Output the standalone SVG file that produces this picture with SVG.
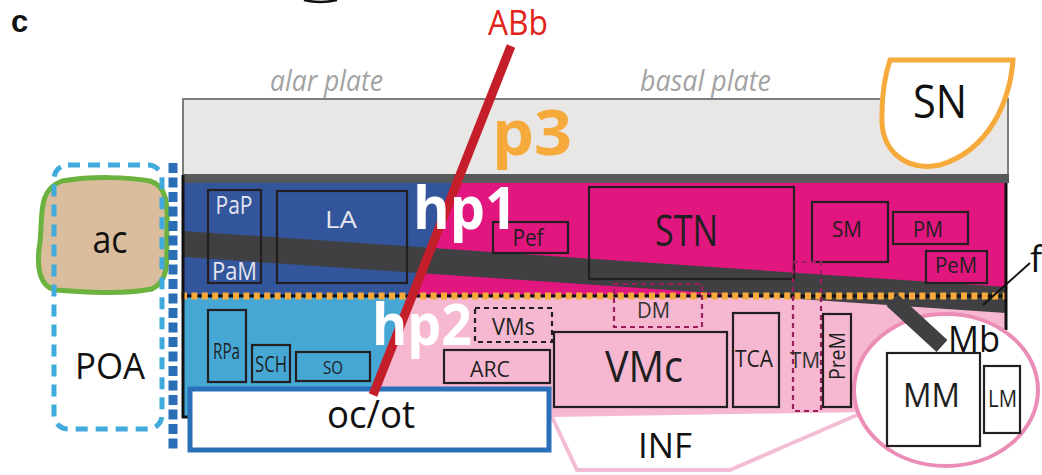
<svg xmlns="http://www.w3.org/2000/svg" width="1042" height="475" viewBox="0 0 1042 475">
<defs>
<style>
text{font-family:"Open Sans","DejaVu Sans",sans-serif;}
.c{text-anchor:middle;}
.box{fill:none;stroke:#231f20;stroke-width:2.2;}
.wbox{fill:#ffffff;stroke:#231f20;stroke-width:2.2;}
.dk{fill:#1f1f1f;}
.lt{fill:#e4e4ee;}
.dash{fill:none;stroke:#9b1f5e;stroke-width:2.2;stroke-dasharray:5 4;}
.bdash{fill:none;stroke:#231f20;stroke-width:2.2;stroke-dasharray:5 4;}
.big{font-weight:700;fill:#ffffff;}
.plate{font-style:italic;fill:#a3a3a3;}
</style>
</defs>
<rect width="1042" height="475" fill="#ffffff"/>
<path d="M304,0 Q320,4 337,0" fill="none" stroke="#111" stroke-width="2.5"/>
<text x="11" y="32" style="font-family:'Liberation Sans',Arial,sans-serif;font-weight:700;font-size:31px" fill="#111">c</text>

<g id="regions">
<rect id="p3-box" x="183" y="99" width="825" height="76" fill="#e8e7e5" stroke="#7d7d7d" stroke-width="2"/>
<rect x="183" y="174" width="826" height="9" fill="#58595b"/>
<rect x="183" y="183" width="823" height="113" fill="#33559b"/>
<polygon points="457,183 1006,183 1006,296 412,296" fill="#e1167f"/>
<rect x="183" y="296" width="823" height="121" fill="#46a6d4"/>
<polygon points="412,296 1006,296 1006,417 364,417" fill="#f6b7d1"/>
<polygon points="183,231 1006,287 1006,313 183,257" fill="#404042"/>
<line x1="183" y1="296" x2="1007" y2="296" stroke="#111" stroke-width="3"/>
<line x1="181" y1="296" x2="1007" y2="296" stroke="#f7aa3c" stroke-width="7" stroke-dasharray="6 4.4"/>
<line x1="183" y1="175" x2="183" y2="418" stroke="#111" stroke-width="3"/>
<line x1="182" y1="417" x2="188" y2="417" stroke="#111" stroke-width="3"/>
<line x1="1006" y1="183" x2="1006" y2="330" stroke="#111" stroke-width="3"/>
</g>

<g id="ac">
<path d="M62,181 C92,176 128,177 150,181 C167,186 168,204 167,230 C166,258 171,280 152,289 C122,295 82,292 56,290 C39,287 36,266 40,242 C43,216 37,190 62,181 Z" fill="#d9bd9c" stroke="#6cb23f" stroke-width="5"/>
<text class="c" x="110" y="253" font-size="38" textLength="35" lengthAdjust="spacingAndGlyphs" fill="#111">ac</text>
</g>
<g id="POA">
<rect x="54" y="165" width="108" height="264" rx="14" fill="none" stroke="#41aadc" stroke-width="5" stroke-dasharray="12 8"/>
<text class="c" x="110" y="379" font-size="36" textLength="70" lengthAdjust="spacingAndGlyphs" fill="#111">POA</text>
</g>
<line x1="173" y1="163" x2="173" y2="453" stroke="#2a6fb6" stroke-width="9" stroke-dasharray="10 4.5"/>

<g id="SN">
<path d="M890,60 L1013,60 C1010,100 990,150 940,165 C905,172 880,150 882,115 C882,90 886,72 890,60 Z" fill="#ffffff" stroke="#f7aa3c" stroke-width="5"/>
<text class="c" x="940" y="118" font-size="45" textLength="54" lengthAdjust="spacingAndGlyphs" fill="#111">SN</text>
</g>

<g id="INF">
<polyline points="552,417 577,470 730,470 864,412" fill="#ffffff" stroke="#f3bdd6" stroke-width="4"/>
<text class="c" x="665" y="458" font-size="34" textLength="54" lengthAdjust="spacingAndGlyphs" fill="#111">INF</text>
</g>

<g id="Mb">
<ellipse cx="946" cy="390" rx="92" ry="76" fill="#ffffff" stroke="#ec8db8" stroke-width="4"/>
<line x1="892" y1="300" x2="942" y2="346" stroke="#404042" stroke-width="16"/>
<text x="948" y="352" font-size="36" textLength="52" lengthAdjust="spacingAndGlyphs" fill="#111">Mb</text>
</g>
<g id="MM">
<rect class="wbox" x="887" y="353" width="93" height="93"/>
<text class="c dk" x="931.5" y="407" font-size="33" textLength="57" lengthAdjust="spacingAndGlyphs">MM</text>
</g>
<g id="LM">
<rect class="wbox" x="984" y="366" width="36" height="67"/>
<text class="c dk" x="1002.5" y="407" font-size="23" textLength="29" lengthAdjust="spacingAndGlyphs">LM</text>
</g>

<g id="f">
<line x1="1030" y1="263" x2="983" y2="305" stroke="#111" stroke-width="2"/>
<text x="1030" y="272" font-size="36" fill="#111">f</text>
</g>

<g id="PaP">
<rect class="box" x="208" y="190" width="53" height="93"/>
<text class="c lt" x="234" y="214" font-size="26" textLength="37" lengthAdjust="spacingAndGlyphs">PaP</text>
<text class="c lt" x="234.5" y="280" font-size="26" textLength="45" lengthAdjust="spacingAndGlyphs">PaM</text>
</g>
<g id="LA">
<rect class="box" x="277" y="191" width="130" height="92"/>
<text class="c lt" x="341" y="228" font-size="23" textLength="32" lengthAdjust="spacingAndGlyphs">LA</text>
</g>
<g id="Pef">
<rect class="box" x="493" y="222" width="75" height="31"/>
<text class="c dk" x="528" y="246" font-size="23" textLength="31" lengthAdjust="spacingAndGlyphs">Pef</text>
</g>
<g id="STN">
<rect class="box" x="589" y="187" width="205" height="92"/>
<text class="c dk" x="686.5" y="246" font-size="43" textLength="63" lengthAdjust="spacingAndGlyphs">STN</text>
</g>
<g id="SM">
<rect class="box" x="812" y="202" width="76" height="60"/>
<text class="c dk" x="847" y="237" font-size="22" textLength="30" lengthAdjust="spacingAndGlyphs">SM</text>
</g>
<g id="PM">
<rect class="box" x="893" y="212" width="75" height="32"/>
<text class="c dk" x="928" y="237" font-size="22" textLength="30" lengthAdjust="spacingAndGlyphs">PM</text>
</g>
<g id="PeM">
<rect class="box" x="926" y="251" width="61" height="32"/>
<text class="c dk" x="956" y="273" font-size="21" textLength="42" lengthAdjust="spacingAndGlyphs">PeM</text>
</g>
<g id="DM">
<rect class="dash" x="614" y="284" width="88" height="43"/>
<text class="c" x="653.5" y="318" font-size="21" textLength="33" lengthAdjust="spacingAndGlyphs" fill="#333">DM</text>
</g>
<g id="TM">
<rect class="dash" x="793" y="262" width="28" height="149"/>
<text class="c" x="805" y="368" font-size="21" textLength="30" lengthAdjust="spacingAndGlyphs" fill="#333">TM</text>
</g>
<g id="PreM">
<rect class="box" x="823" y="314" width="28" height="93"/>
<text class="c dk" x="0" y="0" font-size="22" textLength="48" lengthAdjust="spacingAndGlyphs" transform="translate(845,356) rotate(-90)">PreM</text>
</g>
<g id="TCA">
<rect class="box" x="733" y="313" width="46" height="94"/>
<text class="c dk" x="754" y="367" font-size="23" textLength="38" lengthAdjust="spacingAndGlyphs">TCA</text>
</g>
<g id="VMc">
<rect class="box" x="554" y="332" width="173" height="75"/>
<text class="c dk" x="644" y="382" font-size="44" textLength="78" lengthAdjust="spacingAndGlyphs">VMc</text>
</g>
<g id="VMs">
<rect class="bdash" x="475" y="308" width="77" height="34"/>
<text class="c dk" x="513.5" y="335" font-size="23" textLength="43" lengthAdjust="spacingAndGlyphs">VMs</text>
</g>
<g id="ARC">
<rect class="box" x="444" y="350" width="106" height="33"/>
<text class="c dk" x="490" y="377" font-size="22" textLength="40" lengthAdjust="spacingAndGlyphs">ARC</text>
</g>
<g id="RPa">
<rect class="box" x="208" y="310" width="38" height="72"/>
<text class="c dk" x="226.5" y="359" font-size="22" textLength="27" lengthAdjust="spacingAndGlyphs">RPa</text>
</g>
<g id="SCH">
<rect class="box" x="252" y="345" width="38" height="37"/>
<text class="c dk" x="271" y="372" font-size="22" textLength="32" lengthAdjust="spacingAndGlyphs">SCH</text>
</g>
<g id="SO">
<rect class="box" x="296" y="352" width="74" height="29"/>
<text class="c dk" x="333" y="374" font-size="19" textLength="20" lengthAdjust="spacingAndGlyphs">SO</text>
</g>
<g id="ocot">
<rect x="190" y="389" width="359" height="61" fill="#ffffff" stroke="#2a70b8" stroke-width="5"/>
<text class="c" x="371" y="428" font-size="38" textLength="88" lengthAdjust="spacingAndGlyphs" fill="#111">oc/ot</text>
</g>

<g id="connectors">
<line id="ABb-line" x1="511" y1="46" x2="373" y2="395" stroke="#c41e2a" stroke-width="9"/>
</g>
<text class="c" x="518" y="35" font-size="34" textLength="60" lengthAdjust="spacingAndGlyphs" fill="#e2231a">ABb</text>

<g id="labels">
<text class="plate" x="326.5" y="91" font-size="30" text-anchor="middle" textLength="113" lengthAdjust="spacingAndGlyphs">alar plate</text>
<text class="plate" x="705.5" y="91" font-size="30" text-anchor="middle" textLength="131" lengthAdjust="spacingAndGlyphs">basal plate</text>
<text x="492" y="155" font-size="62" font-weight="700" fill="#f7aa3c" textLength="80" lengthAdjust="spacingAndGlyphs">p3</text>
<text class="big" x="413" y="229" font-size="59" textLength="104" lengthAdjust="spacingAndGlyphs">hp1</text>
<text class="big" x="372" y="345" font-size="57" textLength="100" lengthAdjust="spacingAndGlyphs">hp2</text>
</g>
</svg>
